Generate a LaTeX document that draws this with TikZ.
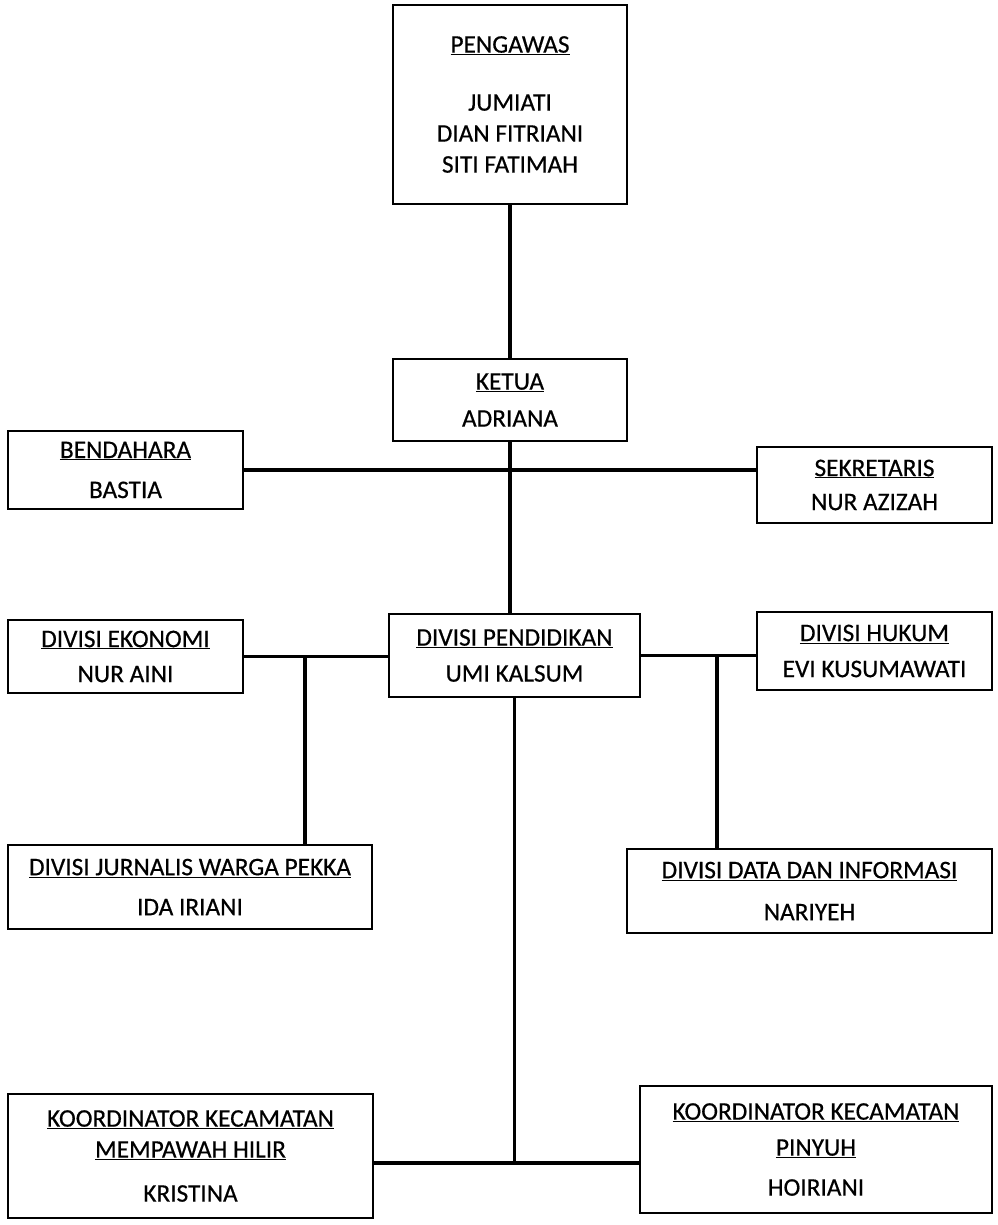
\documentclass[tikz,border=0pt]{standalone}
\usepackage{fontspec}
\setmainfont{Carlito}[FakeBold=0.5]
\usetikzlibrary{calc}
\newcommand{\ul}[1]{\underline{#1}}
\tikzset{
  box/.style={draw=black, line width=1.4pt, rectangle, align=center, inner sep=0pt,
    font=\fontsize{25.3}{31}\selectfont, text=black},
  conn/.style={draw=black, line width=3.4pt}
}
\begin{document}
\begin{tikzpicture}[x=1pt,y=-1pt]
\useasboundingbox[fill=white] (0,0) rectangle (997,1225);
% boxes
\node[box, minimum width=234pt, minimum height=199pt] (peng) at (510,104.5)
  {\ul{PENGAWAS}\\[27pt] JUMIATI\\ DIAN FITRIANI\\ SITI FATIMAH};
\node[box, minimum width=234pt, minimum height=82pt] (ketua) at (510,400)
  {\ul{KETUA}\\[6pt] ADRIANA};
\node[box, minimum width=235pt, minimum height=78pt] (bend) at (125.5,470)
  {\ul{BENDAHARA}\\[9pt] BASTIA};
\node[box, minimum width=235pt, minimum height=76pt] (sek) at (874.5,485)
  {\ul{SEKRETARIS}\\[3pt] NUR AZIZAH};
\node[box, minimum width=235pt, minimum height=73pt] (ekon) at (125.5,656.5)
  {\ul{DIVISI EKONOMI}\\[4pt] NUR AINI};
\node[box, minimum width=251pt, minimum height=83pt] (pend) at (514.5,655.5)
  {\ul{DIVISI PENDIDIKAN}\\[5pt] UMI KALSUM};
\node[box, minimum width=235pt, minimum height=78pt] (huk) at (874.5,651)
  {\ul{DIVISI HUKUM}\\[5pt] EVI KUSUMAWATI};
\node[box, minimum width=364pt, minimum height=84pt] (jurn) at (190,887)
  {\ul{DIVISI JURNALIS WARGA PEKKA}\\[9pt] IDA IRIANI};
\node[box, minimum width=365pt, minimum height=84pt] (data) at (809.5,891)
  {\ul{DIVISI DATA DAN INFORMASI}\\[11pt] NARIYEH};
\node[box, minimum width=365pt, minimum height=124pt] (mem) at (190.5,1156)
  {\ul{KOORDINATOR KECAMATAN}\\ \ul{MEMPAWAH HILIR}\\[13pt] KRISTINA};
\node[box, minimum width=352pt, minimum height=127pt] (pin) at (816,1149.5)
  {\ul{KOORDINATOR KECAMATAN}\\[5pt] \ul{PINYUH}\\[9pt] HOIRIANI};
% junction coordinates
\coordinate (ej) at (305,657);
\coordinate (hd) at (717,655.5);
\coordinate (kj) at (516,1163);
% connectors
\draw[conn] (peng.south) -- (ketua.north);
\draw[conn] (ketua.south) -- (ketua.south |- pend.north);
\draw[conn] (bend.east) -- (bend.east -| sek.west);
\draw[conn] (ekon.east) -- (ekon.east -| pend.west);
\draw[conn] (ej) -- (ej |- jurn.north);
\draw[conn] (pend.east) -- (pend.east -| huk.west);
\draw[conn] (hd) -- (hd |- data.north);
\draw[conn] (pend.south) -- (pend.south |- kj);
\draw[conn] (kj -| mem.east) -- (kj -| pin.west);
\end{tikzpicture}
\end{document}
